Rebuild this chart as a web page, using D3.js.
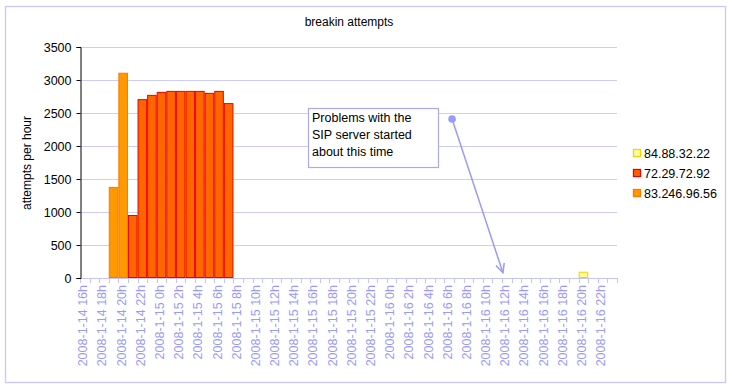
<!DOCTYPE html>
<html>
<head>
<meta charset="utf-8">
<script src="https://cdn.jsdelivr.net/npm/d3@7"></script>
<style>
  html, body { margin: 0; padding: 0; background: #fff; }
  svg { display: block; }
  text { font-family: "Liberation Sans", Arial, sans-serif; }
</style>
</head>
<body>
<svg id="chart" width="732" height="388"></svg>
<script>
// ---- data ----
const categories = [
  "2008-1-14 16h","2008-1-14 17h","2008-1-14 18h","2008-1-14 19h","2008-1-14 20h","2008-1-14 21h","2008-1-14 22h","2008-1-14 23h",
  "2008-1-15 0h","2008-1-15 1h","2008-1-15 2h","2008-1-15 3h","2008-1-15 4h","2008-1-15 5h","2008-1-15 6h","2008-1-15 7h",
  "2008-1-15 8h","2008-1-15 9h","2008-1-15 10h","2008-1-15 11h","2008-1-15 12h","2008-1-15 13h","2008-1-15 14h","2008-1-15 15h",
  "2008-1-15 16h","2008-1-15 17h","2008-1-15 18h","2008-1-15 19h","2008-1-15 20h","2008-1-15 21h","2008-1-15 22h","2008-1-15 23h",
  "2008-1-16 0h","2008-1-16 1h","2008-1-16 2h","2008-1-16 3h","2008-1-16 4h","2008-1-16 5h","2008-1-16 6h","2008-1-16 7h",
  "2008-1-16 8h","2008-1-16 9h","2008-1-16 10h","2008-1-16 11h","2008-1-16 12h","2008-1-16 13h","2008-1-16 14h","2008-1-16 15h",
  "2008-1-16 16h","2008-1-16 17h","2008-1-16 18h","2008-1-16 19h","2008-1-16 20h","2008-1-16 21h","2008-1-16 22h","2008-1-16 23h"
];
const seriesNames = ["84.88.32.22", "72.29.72.92", "83.246.96.56"];
const values_84_88_32_22 = [
  0,0,0,0,0,0,0,0, 0,0,0,0,0,0,0,0, 0,0,0,0,0,0,0,0, 0,0,0,0,0,0,0,0,
  0,0,0,0,0,0,0,0, 0,0,0,0,0,0,0,0, 0,0,0,0,95,0,0,0
];
const values_72_29_72_92 = [
  0,0,0,0,0,955,2710,2775, 2820,2835,2835,2835,2835,2805,2835,2650, 0,0,0,0,0,0,0,0, 0,0,0,0,0,0,0,0,
  0,0,0,0,0,0,0,0, 0,0,0,0,0,0,0,0, 0,0,0,0,0,0,0,0
];
const values_83_246_96_56 = [
  0,0,0,1380,3110,0,0,0, 0,0,0,0,0,0,0,0, 0,0,0,0,0,0,0,0, 0,0,0,0,0,0,0,0,
  0,0,0,0,0,0,0,0, 0,0,0,0,0,0,0,0, 0,0,0,0,0,0,0,0
];
const yTicks = [0, 500, 1000, 1500, 2000, 2500, 3000, 3500];
const titleText = "breakin attempts";
const yLabelText = "attempts per hour";
const noteLines = ["Problems with the", "SIP server started", "about this time"];
const noteFrom = { cat: "2008-1-16 6h", value: 2410 };
const noteTo = { cat: "2008-1-16 12h", value: 80 };

(function () {
// ---- layout ----
const fills = { "84.88.32.22": "#FFFF99", "72.29.72.92": "#FF6600", "83.246.96.56": "#FF9900" };
const strokes = { "84.88.32.22": "#FFCC00", "72.29.72.92": "#EE0000", "83.246.96.56": "#FF7700" };
const gridColor = "#CCCCFF";
const axisBlue = "#C4C4F8";
const labelBlue = "#9999FF";

const svg = d3.select("#chart");
const pLeft = 80, pRight = 617, pTop = 47, pBottom = 278;

svg.append("rect").attr("x", 5.5).attr("y", 6.5).attr("width", 720).attr("height", 376)
  .attr("fill", "#fff").attr("stroke", "#C8C8FF").attr("stroke-width", 1.3);

const x = d3.scaleBand().domain(categories).range([pLeft, pRight]).padding(0);
const y = d3.scaleLinear().domain([0, 3500]).range([pBottom, pTop]);

// grid
svg.append("g").selectAll("line").data(yTicks.filter(d => d > 0)).join("line")
  .attr("x1", pLeft).attr("x2", pRight)
  .attr("y1", d => Math.round(y(d)) + 0.5).attr("y2", d => Math.round(y(d)) + 0.5)
  .attr("stroke", gridColor).attr("stroke-width", 1);

// stacked data
const rows = categories.map((c, i) => ({
  cat: c,
  "84.88.32.22": values_84_88_32_22[i],
  "72.29.72.92": values_72_29_72_92[i],
  "83.246.96.56": values_83_246_96_56[i]
}));
const stack = d3.stack().keys(["83.246.96.56", "72.29.72.92", "84.88.32.22"])(rows);

const bw = x.bandwidth();
svg.append("g").selectAll("g").data(stack).join("g")
  .attr("fill", s => fills[s.key]).attr("stroke", s => strokes[s.key]).attr("stroke-width", 1)
  .selectAll("rect").data(s => s.filter(d => d[1] - d[0] > 0)).join("rect")
  .attr("x", d => x(d.data.cat) + 0.5)
  .attr("width", bw - 1)
  .attr("y", d => y(d[1]) + 0.5)
  .attr("height", d => y(d[0]) - y(d[1]) - 1);

// x axis (custom: ticks at boundaries, labels at every second category)
const xa = svg.append("g");
xa.append("line").attr("x1", pLeft).attr("x2", pRight).attr("y1", pBottom + 0.5).attr("y2", pBottom + 0.5)
  .attr("stroke", axisBlue).attr("stroke-width", 1.2);
const bounds = categories.map(c => x(c)).concat([pRight]);
xa.selectAll("line.tk").data(bounds).join("line").attr("class", "tk")
  .attr("x1", d => Math.round(d) + 0.5).attr("x2", d => Math.round(d) + 0.5)
  .attr("y1", pBottom).attr("y2", pBottom + 5)
  .attr("stroke", axisBlue).attr("stroke-width", 1);
xa.selectAll("text").data(categories.filter((c, i) => i % 2 === 0)).join("text")
  .attr("transform", c => `translate(${x(c) + bw / 2 + 2.5},${pBottom + 7}) rotate(-90)`)
  .attr("text-anchor", "end")
  .attr("font-size", 12.5)
  .attr("fill", labelBlue)
  .text(c => c);

// y axis
const ya = svg.append("g").attr("transform", `translate(${pLeft + 0.5},0)`)
  .call(d3.axisLeft(y).tickValues(yTicks).tickSize(4).tickSizeOuter(4).tickFormat(d3.format("d")));
ya.select(".domain").attr("stroke", "#000");
ya.selectAll(".tick line").attr("stroke", "#000");
ya.selectAll(".tick text").attr("font-size", 12.5).attr("fill", "#000").attr("x", -9)
  .attr("font-family", "Liberation Sans, Arial, sans-serif");

// title
svg.append("text").attr("x", 349).attr("y", 26).attr("text-anchor", "middle")
  .attr("font-size", 12).attr("fill", "#000").text(titleText);

// y label
svg.append("text").attr("transform", `translate(31,163) rotate(-90)`).attr("text-anchor", "middle")
  .attr("font-size", 12).attr("fill", "#000").text(yLabelText);

// annotation
const ax1 = x(noteFrom.cat) + bw * 0.8, ay1 = y(noteFrom.value);
const ax2 = x(noteTo.cat) + 1, ay2 = y(noteTo.value);
svg.append("line").attr("x1", ax1).attr("y1", ay1).attr("x2", ax2).attr("y2", ay2)
  .attr("stroke", "#9999FF").attr("stroke-width", 1.5);
const ang = Math.atan2(ay2 - ay1, ax2 - ax1);
const hl = 10, ha = 0.45;
svg.append("path")
  .attr("d", `M${ax2 - hl * Math.cos(ang - ha)},${ay2 - hl * Math.sin(ang - ha)} L${ax2},${ay2} L${ax2 - hl * Math.cos(ang + ha)},${ay2 - hl * Math.sin(ang + ha)}`)
  .attr("fill", "none").attr("stroke", "#9999FF").attr("stroke-width", 1.5);
svg.append("circle").attr("cx", ax1).attr("cy", ay1).attr("r", 3.8).attr("fill", "#9999FF");

svg.append("rect").attr("x", 308.5).attr("y", 108.5).attr("width", 130).attr("height", 59)
  .attr("fill", "#fff").attr("stroke", "#AAAAEE").attr("stroke-width", 1.2);
svg.append("g").selectAll("text").data(noteLines).join("text")
  .attr("x", 312).attr("y", (d, i) => 122 + i * 17)
  .attr("font-size", 12.5).attr("fill", "#000").text(d => d);

// legend
const lg = svg.append("g").attr("transform", "translate(633,148)");
const li = lg.selectAll("g").data(seriesNames).join("g").attr("transform", (d, i) => `translate(0,${i * 20})`);
li.append("rect").attr("x", 0.5).attr("y", 1.5).attr("width", 7).attr("height", 7)
  .attr("fill", d => fills[d]).attr("stroke", d => strokes[d]).attr("stroke-width", 1.3);
li.append("text").attr("x", 11).attr("y", 9.5).attr("font-size", 12.5).attr("fill", "#000").text(d => d);
})();
</script>
</body>
</html>
